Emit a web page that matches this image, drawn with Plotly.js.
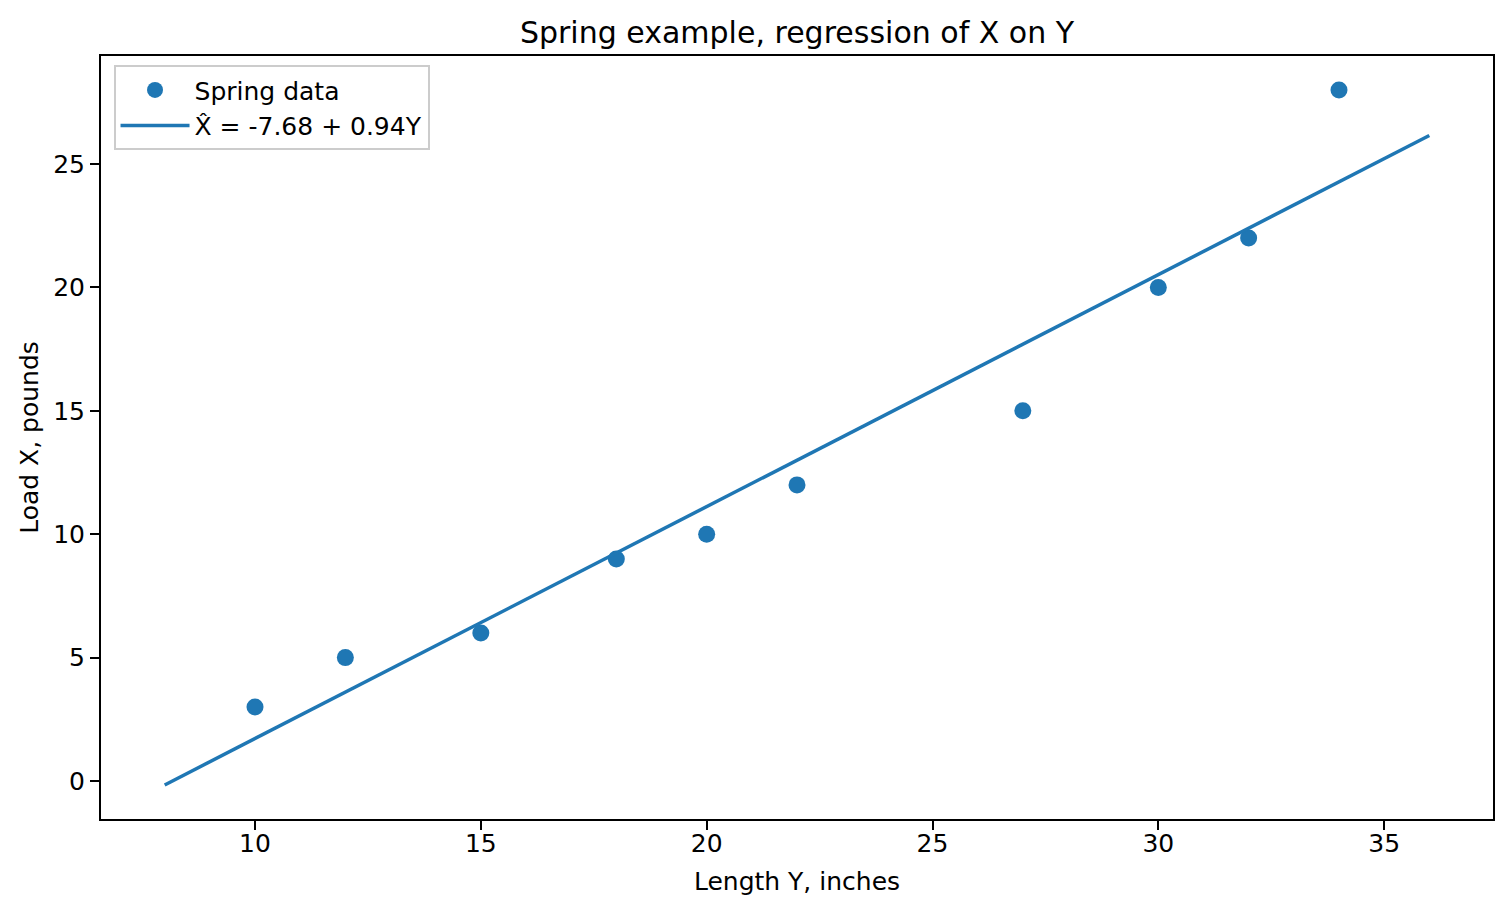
<!DOCTYPE html>
<html>
<head>
<meta charset="utf-8">
<script src="https://cdn.plot.ly/plotly-3.0.1.min.js"></script>
<style>html,body{margin:0;padding:0;background:#fff;}</style>
</head>
<body>
<div id="myDiv" style="width:1510px;height:913px;"></div>
<script>
  // spring data: length Y (inches) and load X (pounds)
  var lengthY = [10, 12, 15, 18, 20, 22, 27, 30, 32, 34];
  var loadX = [3, 5, 6, 9, 10, 12, 15, 20, 22, 28];

  // fitted line X = a + bY, drawn between these two lengths
  var intercept = -7.68;
  var slope = 0.94;
  var lineY = [8, 36];
  var lineX = lineY.map(function (v) { return intercept + slope * v; });

  var blue = '#1f77b4';

  var springData = {
    x: lengthY,
    y: loadX,
    mode: 'markers',
    type: 'scatter',
    name: 'Spring data',
    marker: { size: 17, color: blue }
  };

  var fitLine = {
    x: lineY,
    y: lineX,
    mode: 'lines',
    type: 'scatter',
    name: 'X\u0302 = -7.68 + 0.94Y',
    line: { color: blue, width: 3.5 }
  };

  var data = [springData, fitLine];

  var axisStyle = {
    showgrid: false,
    zeroline: false,
    showline: true,
    mirror: true,
    linecolor: '#000',
    linewidth: 2,
    ticks: 'outside',
    ticklen: 9,
    tickwidth: 2,
    tickcolor: '#000',
    tickfont: { family: 'DejaVu Sans', size: 25, color: '#000' }
  };

  var layout = {
    width: 1510,
    height: 913,
    margin: { l: 101, r: 17, t: 56, b: 94 },
    paper_bgcolor: '#fff',
    plot_bgcolor: '#fff',
    font: { family: 'DejaVu Sans', color: '#000' },
    title: {
      text: 'Spring example, regression of X on Y',
      font: { family: 'DejaVu Sans', size: 30, color: '#000' },
      xref: 'paper', x: 0.5, xanchor: 'center',
      y: 1 - 32 / 913, yanchor: 'middle'
    },
    xaxis: Object.assign({}, axisStyle, {
      range: [6.59, 37.41],
      tickvals: [10, 15, 20, 25, 30, 35],
      ticklabelstandoff: -8,
      title: { text: 'Length Y, inches', font: { family: 'DejaVu Sans', size: 25, color: '#000' }, standoff: 15 }
    }),
    yaxis: Object.assign({}, axisStyle, {
      range: [-1.54, 29.38],
      tickvals: [0, 5, 10, 15, 20, 25],
      title: { text: 'Load X, pounds', font: { family: 'DejaVu Sans', size: 25, color: '#000' }, standoff: 7 }
    }),
    showlegend: true,
    legend: {
      x: 0.009, y: 0.988, xanchor: 'left', yanchor: 'top',
      bgcolor: 'rgba(255,255,255,0.8)',
      bordercolor: '#ccc',
      borderwidth: 2,
      font: { family: 'DejaVu Sans', size: 25, color: '#000' },
      itemwidth: 69
    }
  };

  Plotly.newPlot('myDiv', data, layout, { displayModeBar: false, staticPlot: true });
</script>
</body>
</html>
